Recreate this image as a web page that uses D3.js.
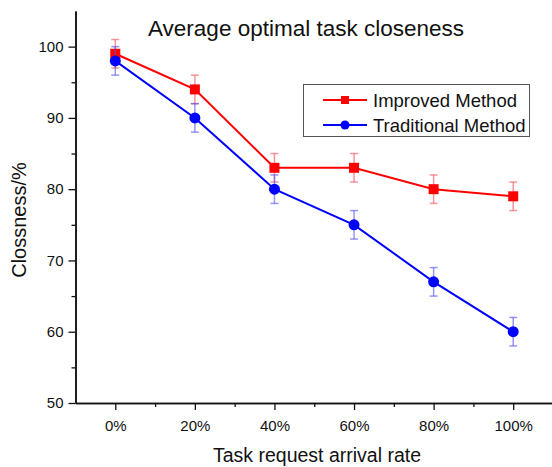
<!DOCTYPE html>
<html>
<head>
<meta charset="utf-8">
<script src="https://cdn.jsdelivr.net/npm/d3@7"></script>
<style>
  body { margin: 0; background: #fff; }
  text { font-family: "Liberation Sans", Arial, sans-serif; fill: #111; }
</style>
</head>
<body>
<script>
const rates = [0, 20, 40, 60, 80, 100]
const improved = [99, 94, 83, 83, 80, 79]
const improvedErr = [2, 2, 2, 2, 2, 2]
const traditional = [98, 90, 80, 75, 67, 60]
const traditionalErr = [2, 2, 2, 2, 2, 2]
const yTicks = [50, 60, 70, 80, 90, 100]

const W = 552, H = 467

const svg = d3.select('body').append('svg')
  .attr('width', W)
  .attr('height', H)

const x = d3.scaleLinear().domain([-10, 110]).range([75.5, 553])
const y = d3.scaleLinear().domain([50, 105]).range([403, 11])

// axes
const xAxis = d3.axisBottom(x)
  .tickValues(rates)
  .tickFormat(d => d + '%')
  .tickSize(7)
  .tickSizeOuter(0)
const xMinor = d3.axisBottom(x)
  .tickValues([10, 30, 50, 70, 90])
  .tickFormat('')
  .tickSize(4)
  .tickSizeOuter(0)
const yAxis = d3.axisLeft(y)
  .tickValues(yTicks)
  .tickSize(7)
  .tickSizeOuter(0)
const yMinor = d3.axisLeft(y)
  .tickValues([55, 65, 75, 85, 95])
  .tickFormat('')
  .tickSize(4)
  .tickSizeOuter(0)

const styleAxis = g => {
  g.select('.domain').attr('stroke', '#111').attr('stroke-width', 1.5)
  g.selectAll('.tick line').attr('stroke', '#111').attr('stroke-width', 1.3)
  g.selectAll('.tick text').attr('font-size', 15).attr('font-family', '"Liberation Sans", Arial, sans-serif').attr('fill', '#111')
}

svg.append('g').attr('transform', `translate(0,${y(50)})`).call(xMinor).call(styleAxis)
svg.append('g').attr('transform', `translate(0,${y(50)})`).call(xAxis).call(styleAxis)
  .selectAll('.tick text').attr('y', 28).attr('dy', 0)
svg.append('g').attr('transform', `translate(${x(-10)},0)`).call(yMinor).call(styleAxis)
svg.append('g').attr('transform', `translate(${x(-10)},0)`).call(yAxis).call(styleAxis)
  .selectAll('.tick text').attr('x', -12)

// series
const series = [
  { name: 'Improved Method', vals: improved, err: improvedErr, color: '#f00', errColor: 'rgba(240,80,90,0.6)', shape: 'square' },
  { name: 'Traditional Method', vals: traditional, err: traditionalErr, color: '#00f', errColor: 'rgba(80,80,240,0.6)', shape: 'circle' }
]

const line = d3.line().x(d => x(d.r)).y(d => y(d.v))

series.forEach(s => {
  const pts = rates.map((r, i) => ({ r, v: s.vals[i], e: s.err[i] }))
  const g = svg.append('g')

  g.append('path')
    .attr('d', line(pts))
    .attr('fill', 'none')
    .attr('stroke', s.color)
    .attr('stroke-width', 2)

  const eb = g.selectAll('g.err').data(pts).enter().append('g')
    .attr('stroke', s.errColor)
    .attr('stroke-width', 1.5)
  eb.append('line')
    .attr('x1', d => x(d.r)).attr('x2', d => x(d.r))
    .attr('y1', d => y(d.v + d.e)).attr('y2', d => y(d.v - d.e))
  eb.append('line')
    .attr('x1', d => x(d.r) - 4).attr('x2', d => x(d.r) + 4)
    .attr('y1', d => y(d.v + d.e)).attr('y2', d => y(d.v + d.e))
  eb.append('line')
    .attr('x1', d => x(d.r) - 4).attr('x2', d => x(d.r) + 4)
    .attr('y1', d => y(d.v - d.e)).attr('y2', d => y(d.v - d.e))

  if (s.shape === 'square') {
    g.selectAll('rect').data(pts).enter().append('rect')
      .attr('x', d => x(d.r) - 5).attr('y', d => y(d.v) - 5)
      .attr('width', 10).attr('height', 10)
      .attr('fill', s.color)
  } else {
    g.selectAll('circle').data(pts).enter().append('circle')
      .attr('cx', d => x(d.r)).attr('cy', d => y(d.v))
      .attr('r', 5.5)
      .attr('fill', s.color)
  }
})

// title
svg.append('text')
  .attr('x', 306).attr('y', 36)
  .attr('text-anchor', 'middle')
  .attr('font-size', 22.5)
  .text('Average optimal task closeness')

// legend
const lg = svg.append('g')
lg.append('rect')
  .attr('x', 303.5).attr('y', 84.5)
  .attr('width', 226).attr('height', 52)
  .attr('fill', '#fff')
  .attr('stroke', '#555')
  .attr('stroke-width', 1)

series.forEach((s, i) => {
  const cy = 100 + i * 25
  lg.append('line')
    .attr('x1', 323).attr('x2', 367)
    .attr('y1', cy).attr('y2', cy)
    .attr('stroke', s.color).attr('stroke-width', 2)
  if (s.shape === 'square') {
    lg.append('rect').attr('x', 341).attr('y', cy - 4).attr('width', 8).attr('height', 8).attr('fill', s.color)
  } else {
    lg.append('circle').attr('cx', 345).attr('cy', cy).attr('r', 4.5).attr('fill', s.color)
  }
  lg.append('text')
    .attr('x', 373).attr('y', cy + 7)
    .attr('font-size', 18.5)
    .text(s.name)
})

// axis titles
svg.append('text')
  .attr('x', 317).attr('y', 462)
  .attr('text-anchor', 'middle')
  .attr('font-size', 19.5)
  .text('Task request arrival rate')

svg.append('text')
  .attr('transform', 'translate(26,220) rotate(-90)')
  .attr('text-anchor', 'middle')
  .attr('font-size', 20)
  .text('Clossness/%')
</script>
</body>
</html>
